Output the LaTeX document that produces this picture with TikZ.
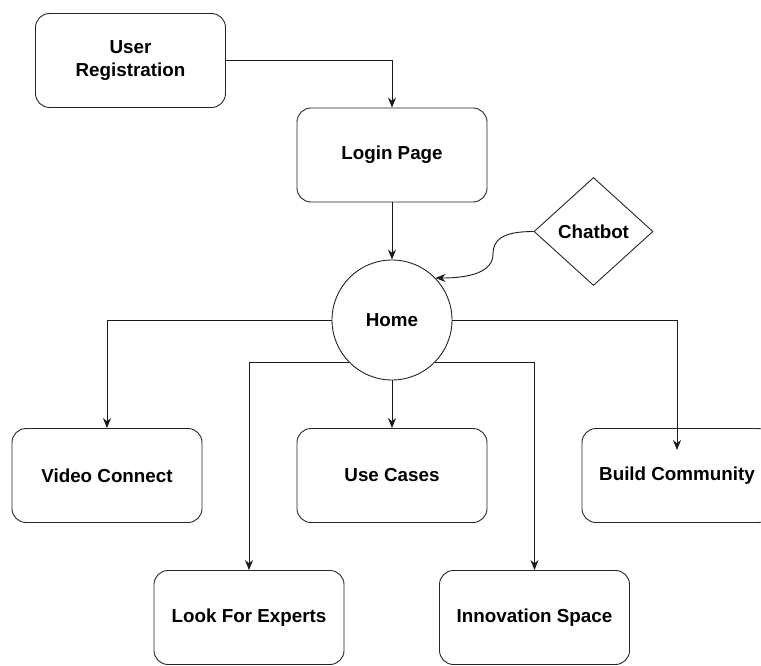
\documentclass[tikz,border=0pt]{standalone}
\usepackage{fontspec}
\setmainfont{Liberation Sans}
\usetikzlibrary{shapes.geometric,arrows.meta}
\tikzset{
  label font/.style={font=\bfseries\fontsize{18.8}{23}\selectfont},
  box/.style={draw=black!85, line width=0.9pt, rounded corners=14pt,
    minimum width=190pt, minimum height=94pt, inner sep=0pt,
    align=center, label font},
  hub/.style={draw=black!85, line width=0.9pt, circle, minimum size=120pt,
    inner sep=0pt, label font},
  decision/.style={draw=black!85, line width=0.9pt, diamond, minimum width=119pt,
    minimum height=108pt, inner sep=0pt, label font},
  link/.style={draw=black!90, line width=0.9pt, -{Stealth[length=10pt,width=8pt]}},
}
\begin{document}
\begin{tikzpicture}[x=1pt,y=-1pt]
  \useasboundingbox (0,0) rectangle (761,666);
  \clip (0,0) rectangle (761,666);
  \fill[white] (0,0) rectangle (761,666);

  % nodes
  \node[box] (ureg) at (130.5,60.5) {User\\Registration};
  \node[box] (login) at (392,155) {Login Page};
  \node[hub] (home) at (392,320) {Home};
  \node[decision] (chat) at (593.5,231.5) {Chatbot};
  \node[box] (video) at (107,475.5) {Video Connect};
  \node[box] (usecases) at (392,475.5) {Use Cases};
  \node[box] (build) at (677,475.5) {Build Community};
  \node[box] (experts) at (249,617.5) {Look For Experts};
  \node[box] (innov) at (534.5,617.5) {Innovation Space};
  \coordinate (buildtip) at (677,450);

  % connectors
  \draw[link] (ureg.east) -| (login.north);
  \draw[link] (login.south) -- (home.north);
  \draw[link] (chat.west) .. controls (502,231.5) and (493,240) .. (493,254)
     .. controls (493,272) and (470,278) .. (home.44);
  \draw[link] (home.west) -| (video.north);
  \draw[link] (home.east) -| (buildtip);
  \draw[link] (home.south) -- (usecases.north);
  \draw[link] (home.south west) -| (experts.north);
  \draw[link] (home.south east) -| (innov.north);
\end{tikzpicture}
\end{document}
